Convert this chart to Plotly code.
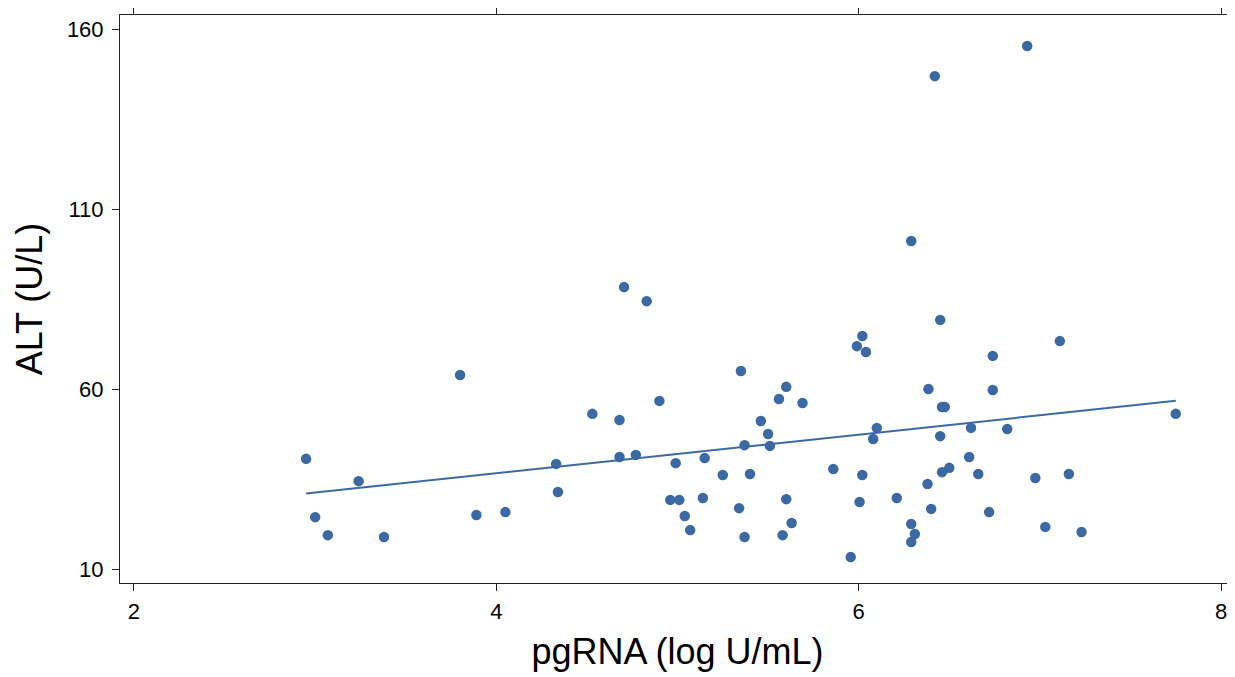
import numpy as np
import plotly.graph_objects as go

pgrna = [2.95, 3.00, 3.07, 3.24, 3.38, 3.80, 3.89, 4.05, 4.33, 4.34,
         4.53, 4.68, 4.68, 4.705, 4.77, 4.83, 4.90, 4.96, 4.99, 5.01,
         5.04, 5.07, 5.14, 5.15, 5.25, 5.34, 5.35, 5.37, 5.37, 5.40,
         5.46, 5.50, 5.51, 5.56, 5.58, 5.60, 5.60, 5.63, 5.69, 5.86,
         5.956, 5.99, 6.005, 6.02, 6.02, 6.04, 6.08, 6.10, 6.21, 6.29,
         6.29, 6.29, 6.31, 6.38, 6.385, 6.40, 6.42, 6.45, 6.45, 6.46,
         6.475, 6.46, 6.50, 6.61, 6.62, 6.66, 6.72, 6.74, 6.74, 6.82,
         6.93, 6.975, 7.03, 7.11, 7.16, 7.23, 7.75]
alt = [40.6, 24.4, 19.4, 34.4, 18.9, 63.9, 25.0, 25.8, 39.2, 31.4,
       53.1, 51.4, 41.1, 88.3, 41.7, 84.4, 56.7, 29.2, 39.4, 29.2,
       24.7, 20.8, 29.7, 40.8, 36.1, 26.9, 65.0, 18.9, 44.4, 36.4,
       51.1, 47.5, 44.2, 57.2, 19.4, 60.6, 29.4, 22.8, 56.1, 37.8,
       13.3, 71.9, 28.6, 36.1, 74.7, 70.3, 46.1, 49.2, 29.7, 17.5,
       101.1, 22.5, 19.7, 33.6, 60.0, 26.7, 146.9, 46.9, 79.2, 55.0,
       55.0, 36.9, 38.1, 41.1, 49.2, 36.4, 25.8, 59.7, 69.2, 48.9,
       155.3, 35.3, 21.7, 73.3, 36.4, 20.3, 53.1]

x_ticks = [2, 4, 6, 8]
y_ticks = [10, 60, 110, 160]

color = "#3B69A3"
font_family = "Liberation Sans, Arial, sans-serif"

slope, intercept = np.polyfit(pgrna, alt, 1)
fx = [min(pgrna), max(pgrna)]
fy = [intercept + slope * v for v in fx]

fig = go.Figure()
fig.add_trace(go.Scatter(x=pgrna, y=alt, mode="markers",
                         marker=dict(color=color, size=10.5, line=dict(width=0)),
                         showlegend=False, cliponaxis=False))
fig.add_trace(go.Scatter(x=fx, y=fy, mode="lines",
                         line=dict(color=color, width=2),
                         showlegend=False))

axis_common = dict(showgrid=False, zeroline=False, showline=True,
                   linecolor="#222222", linewidth=1, ticks="outside",
                   ticklen=7, tickcolor="#222222", tickwidth=1,
                   automargin=False,
                   tickfont=dict(family=font_family, size=22, color="#000000"))

fig.update_layout(
    width=1227, height=669,
    paper_bgcolor="white", plot_bgcolor="white",
    margin=dict(l=112, r=0, t=7, b=94),
    xaxis=dict(range=[1.9229, 8.077], tickvals=x_ticks, mirror="ticks",
               ticklabelstandoff=2,
               title=dict(text="pgRNA (log U/mL)", standoff=15,
                          font=dict(family=font_family, size=36, color="#000000")),
               **axis_common),
    yaxis=dict(range=[6.11, 163.89], tickvals=y_ticks, mirror=False,
               ticklabelstandoff=4,
               title=dict(text="ALT (U/L)", standoff=13,
                          font=dict(family=font_family, size=36, color="#000000")),
               **axis_common),
)

fig.write_html("out.html")
